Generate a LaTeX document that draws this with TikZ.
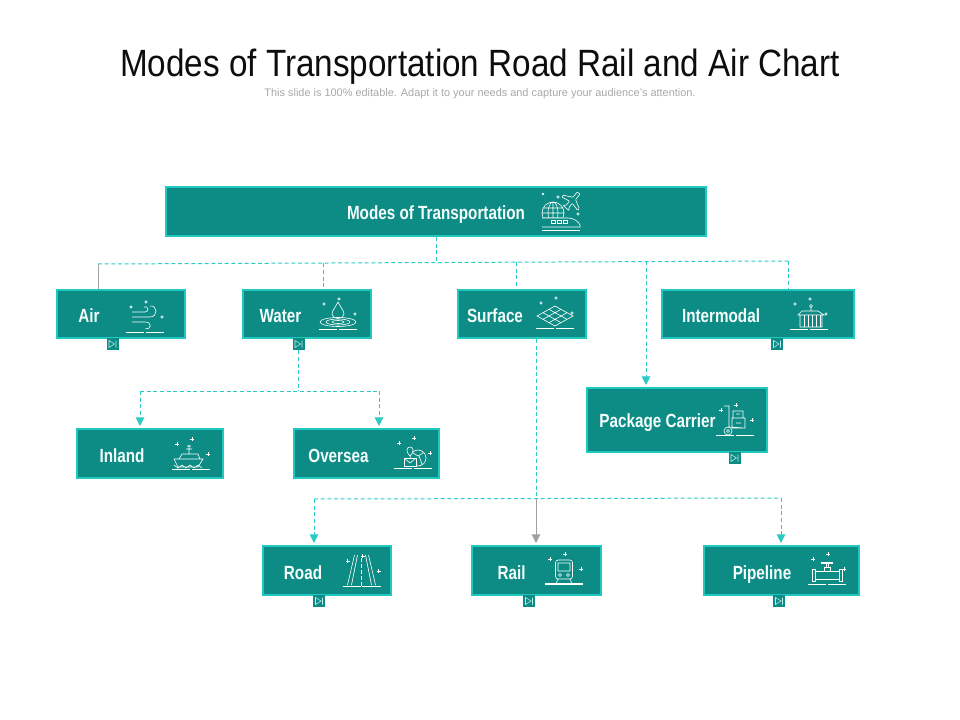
\documentclass[tikz,border=0pt]{standalone}
\usepackage{fontspec}
\setmainfont{Liberation Sans}
\newfontfamily\narrowfont[FakeStretch=0.8]{Liberation Sans}
\newfontfamily\titlefont[FakeStretch=0.875]{Liberation Sans}
\usetikzlibrary{arrows.meta}
\definecolor{boxteal}{HTML}{0C8C84}
\definecolor{boxedge}{HTML}{1FC9BF}
\definecolor{linkteal}{HTML}{2CCBC3}
\definecolor{subgray}{HTML}{A8A8A8}
\definecolor{linkgray}{HTML}{A0A0A0}
\tikzset{
  box/.style 2 args={draw=boxedge, fill=boxteal, line width=1.5pt, inner sep=0pt,
    minimum width=#1*0.75pt, minimum height=#2*0.75pt},
  boxlabel/.style={text=white!95!boxedge, inner sep=0pt, text height=12pt, text depth=3pt,
    font=\narrowfont\bfseries\fontsize{14.3}{16}\selectfont},
  nextmark/.style={fill=boxteal, minimum size=9pt, inner sep=0pt,
    path picture={\draw[white!70!boxedge, line width=0.4pt,
      shift={(path picture bounding box.center)}]
      (-3.5,-3.5) -- (2,0) -- (-3.5,3.5) -- cycle (3.5,-3.5) -- (3.5,3.5);}},
  link/.style={linkteal, line width=0.75pt, dash pattern=on 3pt off 2pt},
  linktip/.style={link, -{Triangle[width=6.5pt,length=6.5pt]}, shorten >=1.5pt},
  icon/.style={white, line width=0.45pt},
  pics/iconbase/.style={code={
    \draw[icon, line width=0.7pt] (-19,0) -- (-0.8,0) (0.8,0) -- (19,0);}},
  pics/icondots/.style={code={
    \draw[icon] (-14,-25) circle[radius=1.2] (1,-30) circle[radius=1.2]
      (17,-15) circle[radius=1.2];}},
  pics/iconsparks/.style={code={
    \draw[icon] (-16,-25) -- (-12,-25) (-14,-27) -- (-14,-23)
      (-1,-30) -- (3,-30) (1,-32) -- (1,-28)
      (15,-15) -- (19,-15) (17,-17) -- (17,-13);}},
  pics/windicon/.style={code={
    \draw[icon] (-13,-20) -- (0,-20) .. controls (5,-20) and (3,-27) .. (-1,-25)
      (-13,-15) -- (5,-15) .. controls (13,-15) and (13,-27) .. (5,-26)
      (-13,-10) -- (0,-10) .. controls (8,-10) and (6,-2) .. (0,-3);}},
  pics/dropicon/.style={code={
    \draw[icon] (0,-27) .. controls (-3,-21) and (-6,-18) .. (-6,-15)
      .. controls (-6,-9) and (6,-9) .. (6,-15) .. controls (6,-18) and (3,-21) .. (0,-27);
    \draw[icon] (0,-7) ellipse[x radius=18, y radius=4.5]
      (0,-7) ellipse[x radius=12, y radius=3] (0,-7) ellipse[x radius=6, y radius=1.5];}},
  pics/landicon/.style={code={
    \draw[icon] (-18,-12) -- (0,-22) -- (18,-12) -- (0,-2) -- cycle
      (-12,-15.3) -- (6,-5.3) (-6,-18.7) -- (12,-8.7)
      (12,-15.3) -- (-6,-5.3) (6,-18.7) -- (-12,-8.7);}},
  pics/depoticon/.style={code={
    \draw[icon] (-9,-14) rectangle (13,-2)
      (-11,-14) -- (-7,-18) -- (9,-18) -- (15,-14) -- cycle
      (2,-18) -- (2,-22);
    \foreach \c in {-5,-1,3,7,11} \draw[icon] (\c,-14) -- (\c,-2);
    \draw[icon] (2,-23) circle[radius=1.5];}},
  pics/trolleyicon/.style={code={
    \draw[icon] (-11,-29) -- (-6,-29) -- (-6,-8) -- (10,-7)
      (-3,-17) rectangle (10,-7) (-2,-24) rectangle (8,-17)
      (1,-12) -- (6,-12) (1,-21) -- (5,-21);
    \draw[icon] (-7,-4) circle[radius=4] (-7,-4) circle[radius=1.5];}},
  pics/shipicon/.style={code={
    \draw[icon] (-17,-10) -- (12,-10) -- (7,-2) -- (-13,-2) -- cycle
      (-12,-10) -- (-9,-15) -- (7,-15) -- (9,-10)
      (-2,-15) -- (-2,-24) (-5,-20) -- (1,-20) (-4,-23) -- (0,-23)
      (-17,-4) -- (-13,-1) -- (-9,-4) -- (-5,-1) -- (-1,-4) -- (3,-1) -- (7,-4) -- (11,-1);}},
  pics/parcelicon/.style={code={
    \draw[icon] (5,-10) circle[radius=8] (0,-15) -- (5,-12) -- (10,-15) (6,-12) -- (9,-4);
    \draw[icon, fill=boxteal] (-9,-10) rectangle (3,-2);
    \draw[icon] (-9,-10) -- (-3,-5) -- (3,-10);
    \draw[icon, fill=boxteal] (-3,-12) .. controls (-8,-17) and (-6,-21) .. (-3,-21)
      .. controls (0,-21) and (2,-17) .. (-3,-12);}},
  pics/roadicon/.style={code={
    \draw[icon] (-14,-1) -- (-7,-31) (-10,-1) -- (-4,-31)
      (14,-1) -- (7,-31) (10,-1) -- (4,-31);
    \draw[icon, dash pattern=on 3pt off 1.5pt] (0,-28) -- (0,0);}},
  pics/trainicon/.style={code={
    \draw[icon, rounded corners=2pt] (-8.5,-24) rectangle (8.5,-5);
    \draw[icon] (-6,-21) rectangle (6,-13) (-4,-9) circle[radius=1.5] (4,-9) circle[radius=1.5]
      (-6,-5) -- (-8,0) (6,-5) -- (8,0);
    \draw[white, line width=1.2pt] (-19,0) -- (19,0);}},
  pics/valveicon/.style={code={
    \draw[icon] (-12,-13) rectangle (12,-5)
      (-15,-15) rectangle (-12,-3) (12,-15) rectangle (15,-3)
      (-3,-13) -- (-3,-17) -- (3,-17) -- (3,-13) (-1,-17) -- (-1,-20) (1,-17) -- (1,-20);
    \draw[icon, line width=1pt] (-6,-21) -- (6,-21);}},
  pics/transporticon/.style={code={
    \draw[icon] (-8,-17) circle[radius=11] (-8,-17) ellipse[x radius=5, y radius=11]
      (-8,-28) -- (-8,-6) (-19,-17) -- (3,-17) (-17.5,-22) -- (1.5,-22) (-17.5,-12) -- (1.5,-12);
    \draw[icon, fill=boxteal] (-19,-12) -- (7,-12) .. controls (13,-12) and (18,-8) .. (19,-5)
      -- (19,-3) -- (-19,-3);
    \foreach \c in {-10,-4,2} \draw[icon] (\c,-10) rectangle (\c+4,-7);
    \draw[icon] (-19,0) -- (19,0);
    \draw[icon, rounded corners=0.5pt, shift={(11,-29)}, rotate=-40, scale=1.15]
      (-1.5,-9) -- (1.5,-9) -- (1.5,-3) -- (9,1) -- (9,3) -- (1.5,1.5) -- (1.5,6) -- (3.5,8)
      -- (-3.5,8) -- (-1.5,6) -- (-1.5,1.5) -- (-9,3) -- (-9,1) -- (-1.5,-3) -- cycle;
    \draw[icon] (-18,-36) circle[radius=1] (-3,-33) circle[radius=1.2] (17,-16) circle[radius=1.2];}}
}
\begin{document}
\begin{tikzpicture}[x=0.75pt, y=-0.75pt]
  \useasboundingbox (0,0) rectangle (960,720);

  % Heading
  \node[anchor=base, inner sep=0pt, font=\titlefont\fontsize{28.5}{34}\selectfont, text=black!95] (title) at (480,77)
    {Modes of Transportation Road Rail and Air Chart};
  \node[anchor=base, inner sep=0pt, font=\fontsize{8.2}{10}\selectfont, text=subgray] (subtitle) at (480,96.5)
    {This slide is 100\% editable.  Adapt it to your needs and capture your audience's attention.};

  % Boxes
  \node[box={540}{49}] (top) at (436,211.5) {};
  \node[box={128}{48}] (air) at (121,314) {};
  \node[box={128}{48}] (water) at (307,314) {};
  \node[box={128}{48}] (surface) at (522,314) {};
  \node[box={192}{48}] (intermodal) at (758,314) {};
  \node[box={180}{64}] (package) at (677,420) {};
  \node[box={146}{49}] (inland) at (150,453.5) {};
  \node[box={145}{49}] (oversea) at (366.5,453.5) {};
  \node[box={128}{49}] (road) at (327,570.5) {};
  \node[box={129}{49}] (rail) at (536.5,570.5) {};
  \node[box={155}{49}] (pipeline) at (781.5,570.5) {};

  % Labels
  \node[boxlabel] (toplabel) at (436,214) {Modes of Transportation};
  \node[boxlabel] (airlabel) at (89,316) {Air};
  \node[boxlabel] (waterlabel) at (280.5,316) {Water};
  \node[boxlabel] (surfacelabel) at (495,316) {Surface};
  \node[boxlabel] (intermodallabel) at (721,316) {Intermodal};
  \node[boxlabel] (packagelabel) at (657.5,421) {Package Carrier};
  \node[boxlabel] (inlandlabel) at (122,456) {Inland};
  \node[boxlabel] (oversealabel) at (338.5,456) {Oversea};
  \node[boxlabel] (roadlabel) at (303,573) {Road};
  \node[boxlabel] (raillabel) at (511.5,573) {Rail};
  \node[boxlabel] (pipelinelabel) at (762,573) {Pipeline};

  % Small marks under the boxes
  \node[nextmark] (airmark) at (112.5,344) {};
  \node[nextmark] (watermark) at (298.5,344) {};
  \node[nextmark] (intermodalmark) at (777,344) {};
  \node[nextmark] (packagemark) at (734.5,458) {};
  \node[nextmark] (roadmark) at (319,601) {};
  \node[nextmark] (railmark) at (529,601) {};
  \node[nextmark] (pipelinemark) at (779,601) {};

  % Icons
  \foreach \x/\y in {145/332,338/329,555/328,809/329,735/435,191/469,413/468,361.5/586,827/584}
    \pic at (\x,\y) {iconbase};
  \foreach \x/\y in {145/332,338/329,555/328,809/329}
    \pic at (\x,\y) {icondots};
  \foreach \x/\y in {735/435,191/469,413/468,361.5/586,564/584,827/584}
    \pic at (\x,\y) {iconsparks};
  \pic (topicon) at (561,230) {transporticon};
  \pic (airicon) at (145,332) {windicon};
  \pic (watericon) at (338,329) {dropicon};
  \pic (surfaceicon) at (555,328) {landicon};
  \pic (intermodalicon) at (809,329) {depoticon};
  \pic (packageicon) at (735,435) {trolleyicon};
  \pic (inlandicon) at (191,469) {shipicon};
  \pic (overseaicon) at (413,468) {parcelicon};
  \pic (roadicon) at (361.5,586) {roadicon};
  \pic (railicon) at (564,584) {trainicon};
  \pic (pipelineicon) at (827,584) {valveicon};

  % Upper bus
  \coordinate (topbus) at (436,262.5);
  \coordinate (busair) at (98,264);
  \coordinate (buswater) at (323,263.3);
  \coordinate (bussurface) at (516,262);
  \coordinate (buspackage) at (646,261.5);
  \coordinate (busintermodal) at (788,261);
  \draw[link] (busair) -- (busintermodal);
  \draw[link] (top.south) -- (topbus);
  \draw[linkgray, line width=0.75pt] (busair) -- (busair |- air.north);
  \draw[link] (buswater) -- (buswater |- water.north);
  \draw[link] (bussurface) -- (bussurface |- surface.north);
  \draw[link] (busintermodal) -- (busintermodal |- intermodal.north);
  \draw[linktip] (buspackage) -- (buspackage |- package.north);

  % Water branch
  \coordinate (waterbus) at (298.5,390.5);
  \coordinate (businland) at (140,391);
  \coordinate (busoversea) at (379,391);
  \draw[link] (watermark.south) -- (waterbus);
  \draw[link] (businland) -- (busoversea);
  \draw[linktip] (businland) -- (businland |- inland.north);
  \draw[linktip] (busoversea) -- (busoversea |- oversea.north);

  % Surface branch
  \coordinate (surfacedrop) at (536,339);
  \coordinate (surfacebus) at (536,498.5);
  \coordinate (busroad) at (314,499);
  \coordinate (buspipeline) at (781,498);
  \draw[link] (surfacedrop) -- (surfacebus);
  \draw[link] (busroad) -- (buspipeline);
  \draw[linktip] (busroad) -- (busroad |- road.north);
  \draw[linktip] (buspipeline) -- (buspipeline |- pipeline.north);
  \draw[linkgray, line width=0.75pt, -{Triangle[width=6.5pt,length=6.5pt]}, shorten >=1.5pt]
    (surfacebus) -- (surfacebus |- rail.north);
\end{tikzpicture}
\end{document}
